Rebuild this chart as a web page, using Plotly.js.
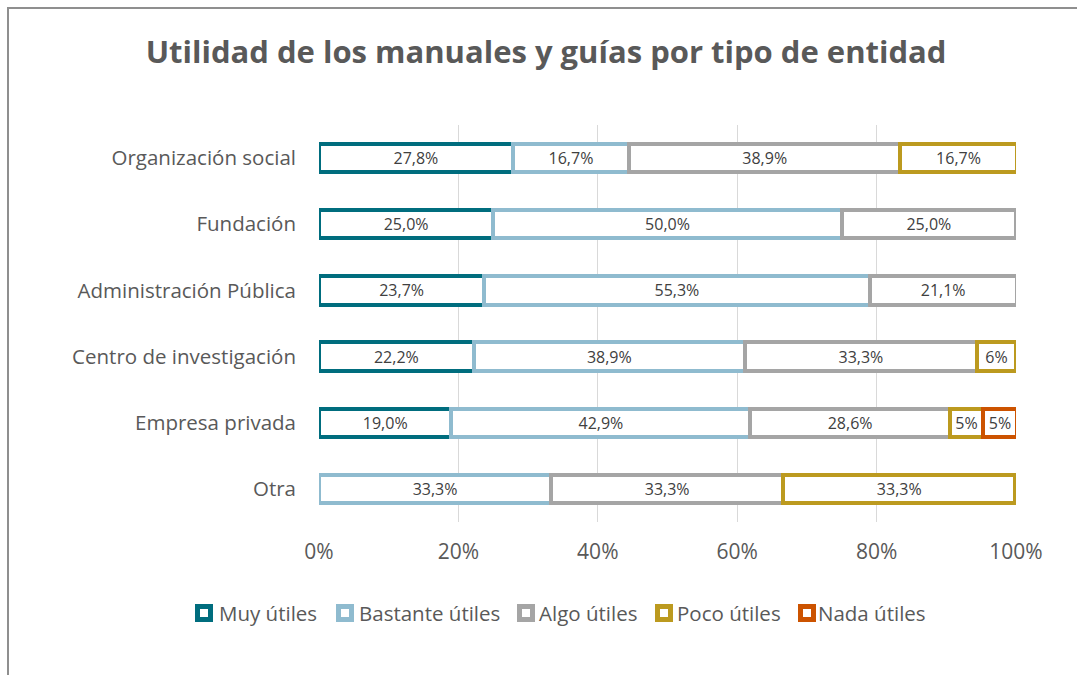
<!DOCTYPE html>
<html>
<head>
<meta charset="utf-8">
<script src="https://cdn.plot.ly/plotly-3.0.1.min.js"></script>
<style>
  html, body { margin: 0; padding: 0; background: #fff; }
  #wrap { position: relative; width: 1077px; height: 675px; overflow: hidden; }
  #frame { position: absolute; left: 7px; top: 7px; width: 1200px; height: 800px;
           border-left: 2px solid #8f8f8f; border-top: 2px solid #8f8f8f; pointer-events: none; }
  #chart { position: absolute; left: 0; top: 0; width: 1077px; height: 675px; }
</style>
</head>
<body>
<div id="wrap">
  <div id="chart"></div>
  <div id="frame"></div>
</div>
<script>
const categories = ["Organización social", "Fundación", "Administración Pública",
                    "Centro de investigación", "Empresa privada", "Otra"];
const seriesNames = ["Muy útiles", "Bastante útiles", "Algo útiles", "Poco útiles", "Nada útiles"];
const muyUtiles      = [27.8, 25.0, 23.7, 22.2, 19.0, null];
const bastanteUtiles = [16.7, 50.0, 55.3, 38.9, 42.9, 33.3];
const algoUtiles     = [38.9, 25.0, 21.1, 33.3, 28.6, 33.3];
const pocoUtiles     = [16.7, null, null, 5.6, 4.8, 33.3];
const nadaUtiles     = [null, null, null, null, 4.8, null];
const muyLabels      = ["27,8%", "25,0%", "23,7%", "22,2%", "19,0%", ""];
const bastanteLabels = ["16,7%", "50,0%", "55,3%", "38,9%", "42,9%", "33,3%"];
const algoLabels     = ["38,9%", "25,0%", "21,1%", "33,3%", "28,6%", "33,3%"];
const pocoLabels     = ["16,7%", "", "", "6%", "5%", "33,3%"];
const nadaLabels     = ["", "", "", "", "5%", ""];
const tickVals = [0, 20, 40, 60, 80, 100];
const tickLabels = ["0%", "20%", "40%", "60%", "80%", "100%"];
const colors = ["#006d7e", "#8fbbcf", "#a5a5a5", "#bc9a1f", "#cc5300"];

const values = [muyUtiles, bastanteUtiles, algoUtiles, pocoUtiles, nadaUtiles];
const labels = [muyLabels, bastanteLabels, algoLabels, pocoLabels, nadaLabels];
const FONT = "'Open Sans', sans-serif";

// plot area geometry (pixels)
const M = { l: 319, r: 61, t: 125, b: 153 };
const W = 1077, H = 675;
const PW = W - M.l - M.r, PH = H - M.t - M.b;
const px2x = p => (p - M.l) / PW;
const py2y = p => (H - M.b - p) / PH;

const traces = values.map((v, i) => ({
  type: "bar",
  orientation: "h",
  name: seriesNames[i],
  y: categories,
  x: v,
  text: labels[i],
  textposition: "inside",
  insidetextanchor: "middle",
  textangle: 0,
  constraintext: "none",
  textfont: { family: FONT, size: 16, color: "#404040" },
  marker: { color: "#ffffff", line: { color: colors[i], width: 4 } },
  hoverinfo: "skip",
  showlegend: false
}));

// custom legend (symbol left pixel, text left pixel)
const legendSymLeft = [195, 336, 517, 655, 798];
const legendTextLeft = [217, 357, 537, 675, 816];
const legendY = 613;
const shapes = [], annotations = [];
seriesNames.forEach((name, i) => {
  shapes.push({
    type: "rect", xref: "paper", yref: "paper",
    x0: px2x(legendSymLeft[i] + 2.5), x1: px2x(legendSymLeft[i] + 15.5),
    y0: py2y(legendY + 6.5), y1: py2y(legendY - 6.5),
    fillcolor: "#ffffff", line: { color: colors[i], width: 5 }
  });
  annotations.push({
    xref: "paper", yref: "paper",
    x: px2x(legendTextLeft[i]), y: py2y(legendY),
    xanchor: "left", yanchor: "middle", showarrow: false,
    text: name, font: { family: FONT, size: 20.5, color: "#595959" }
  });
});

const layout = {
  width: W, height: H,
  paper_bgcolor: "#ffffff", plot_bgcolor: "#ffffff",
  margin: M,
  barmode: "stack",
  bargap: 0.57,
  font: { family: FONT, color: "#595959" },
  title: {
    text: "<b>Utilidad de los manuales y guías por tipo de entidad</b>",
    font: { family: FONT, size: 31, color: "#595959" },
    x: 0.507, xanchor: "center", xref: "container",
    y: 0.923, yanchor: "middle", yref: "container"
  },
  xaxis: {
    range: [0, 100],
    tickvals: tickVals, ticktext: tickLabels,
    showgrid: true, gridcolor: "#d9d9d9", gridwidth: 1.3,
    zeroline: false, showline: false, ticks: "",
    tickfont: { family: FONT, size: 21, color: "#595959" },
    ticklabelstandoff: 15,
    fixedrange: true
  },
  yaxis: {
    autorange: "reversed",
    showgrid: false, zeroline: false, showline: false, ticks: "",
    tickfont: { family: FONT, size: 20.5, color: "#595959" },
    ticklabelstandoff: 22,
    fixedrange: true
  },
  shapes: shapes,
  annotations: annotations,
  showlegend: false
};

Plotly.newPlot("chart", traces, layout, { displayModeBar: false, staticPlot: true });
</script>
</body>
</html>
